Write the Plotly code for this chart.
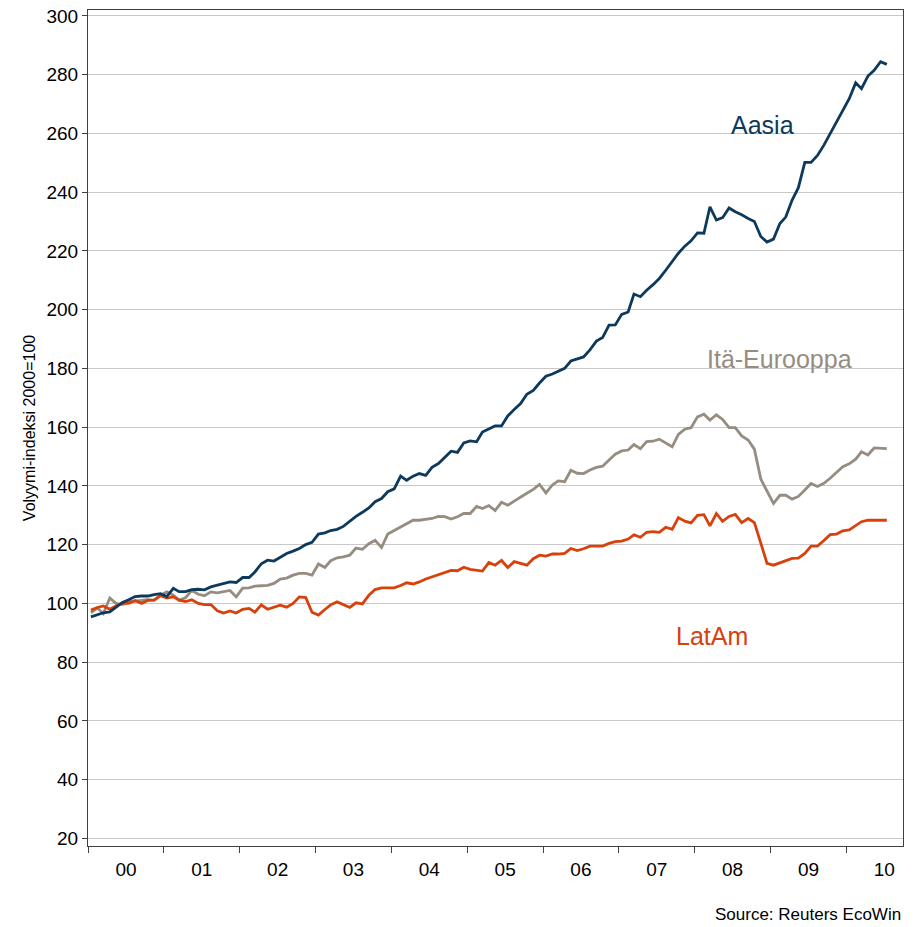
import pandas as pd
import plotly.graph_objects as go

# Monthly volume index, 2000=100 (Jan 2000 .. Jul 2010)
aasia = [
    95.4, 96.0, 96.8, 97.1, 98.8, 100.3, 101.2, 102.3, 102.5, 102.5, 103.0, 103.3,
    102.3, 105.1, 104.0, 104.0, 104.7, 104.8, 104.6, 105.6, 106.2, 106.8, 107.3, 107.1,
    108.8, 108.8, 110.7, 113.5, 114.7, 114.4, 115.8, 117.0, 117.8, 118.7, 120.0, 120.8,
    123.6, 124.0, 124.8, 125.2, 126.2, 128.0, 129.6, 131.0, 132.5, 134.6, 135.7, 138.0,
    139.0, 143.3, 141.9, 143.3, 144.2, 143.6, 146.3, 147.6, 149.9, 151.8, 151.4, 154.6,
    155.3, 155.0, 158.3, 159.3, 160.4, 160.4, 163.8, 166.0, 168.0, 171.2, 172.5, 175.0,
    177.3, 178.1, 178.9, 180.0, 182.5, 183.3, 183.9, 186.3, 189.3, 190.5, 194.7, 194.8,
    198.4, 199.2, 205.3, 204.4, 206.6, 208.5, 210.6, 213.4, 216.3, 219.2, 221.6, 223.4,
    226.1, 226.0, 235.0, 230.5, 231.3, 234.6, 233.3, 232.3, 231.0, 230.0, 224.9, 223.0,
    224.0, 229.3, 231.5, 237.3, 241.5, 250.1, 250.1, 252.5, 256.0, 259.8, 263.8, 267.9,
    271.8, 277.2, 275.2, 279.5, 281.5, 284.4, 283.5,
]
ita_eurooppa = [
    96.8, 98.5, 96.5, 101.8, 100.0, 99.6, 100.5, 100.8, 101.0, 101.3, 101.1, 102.8,
    103.9, 102.8, 101.1, 101.9, 104.4, 103.1, 102.6, 103.9, 103.6, 104.1, 104.4, 102.2,
    105.2, 105.3, 105.9, 106.0, 106.1, 106.8, 108.3, 108.6, 109.6, 110.2, 110.2, 109.6,
    113.4, 112.2, 114.5, 115.5, 115.8, 116.4, 118.8, 118.4, 120.3, 121.5, 119.0, 123.6,
    124.8, 125.9, 127.0, 128.3, 128.3, 128.6, 128.9, 129.6, 129.5, 128.7, 129.5, 130.6,
    130.6, 133.0, 132.3, 133.3, 131.6, 134.4, 133.4, 134.8, 136.3, 137.5, 138.8, 140.5,
    137.6, 140.3, 141.7, 141.4, 145.3, 144.3, 144.2, 145.4, 146.3, 146.7, 148.8, 150.8,
    151.9, 152.2, 154.1, 152.7, 155.1, 155.2, 155.9, 154.6, 153.3, 157.5, 159.3, 159.8,
    163.5, 164.4, 162.4, 164.2, 162.6, 159.8, 159.8, 157.0, 155.6, 152.5, 142.3, 138.2,
    134.0, 136.8, 136.8, 135.5, 136.4, 138.6, 140.8, 139.8, 140.9, 142.6, 144.5, 146.5,
    147.5, 149.1, 151.6, 150.5, 152.9, 152.7, 152.7,
]
latam = [
    97.7, 98.6, 99.1, 98.0, 99.1, 100.1, 100.0, 101.0, 100.0, 101.0, 101.1, 102.6,
    101.8, 102.2, 101.1, 100.6, 101.2, 100.0, 99.6, 99.6, 97.5, 96.7, 97.4, 96.7,
    98.0, 98.3, 97.0, 99.5, 98.0, 98.6, 99.4, 98.7, 100.0, 102.2, 102.0, 97.0,
    96.0, 97.9, 99.5, 100.5, 99.6, 98.6, 100.2, 99.8, 102.8, 104.7, 105.3, 105.3,
    105.3, 106.1, 107.0, 106.6, 107.3, 108.3, 109.0, 109.8, 110.5, 111.2, 111.1, 112.3,
    111.6, 111.2, 111.0, 113.9, 113.0, 114.6, 112.2, 114.2, 113.6, 113.0, 115.2, 116.4,
    116.1, 116.8, 116.8, 117.0, 118.7, 118.0, 118.6, 119.5, 119.5, 119.5, 120.4, 121.0,
    121.2, 121.9, 123.3, 122.5, 124.2, 124.4, 124.2, 125.9, 125.2, 129.2, 128.0, 127.4,
    130.0, 130.2, 126.4, 130.6, 127.9, 129.6, 130.3, 127.5, 128.9, 127.5, 120.5, 113.6,
    113.0, 113.8, 114.3, 115.3, 115.4, 117.0, 119.5, 119.5, 121.4, 123.4, 123.6, 124.7,
    125.0, 126.5, 127.8, 128.3, 128.3, 128.2, 128.3,
]
y_ticks = list(range(20, 301, 20))

dates = pd.date_range("2000-01-01", periods=len(aasia), freq="MS") + pd.Timedelta(days=14)

C_AASIA = "#0D3A5C"
C_ITA = "#968C80"
C_LAT = "#D8400C"
FONT = "Liberation Sans, Arial, sans-serif"

fig = go.Figure()
for vals, col, name in [(ita_eurooppa, C_ITA, "Itä-Eurooppa"),
                        (latam, C_LAT, "LatAm"),
                        (aasia, C_AASIA, "Aasia")]:
    fig.add_trace(go.Scatter(x=dates, y=vals, mode="lines", name=name,
                             line=dict(color=col, width=2.8)))

fig.update_layout(
    width=918, height=927,
    margin=dict(l=88, r=15, t=10, b=81, autoexpand=False),
    paper_bgcolor="white", plot_bgcolor="white",
    showlegend=False,
    font=dict(family=FONT, size=18, color="#000000"),
)
fig.update_xaxes(
    type="date", range=["2000-01-01", "2010-10-01"],
    tick0="2000-01-01", dtick="M12", tickformat="%y", ticklabelmode="period",
    ticks="outside", ticklen=6, tickcolor="#404040",
    showgrid=False, showline=True, linecolor="#404040", linewidth=1, mirror=True,
    tickfont=dict(size=19),
)
fig.update_yaxes(
    range=[17.4, 302], tickvals=y_ticks,
    ticks="outside", ticklen=5, tickcolor="#404040", ticklabeloverflow="allow",
    showgrid=True, gridcolor="#C8C8C8", gridwidth=1, zeroline=False,
    showline=True, linecolor="#404040", linewidth=1, mirror=True,
    tickfont=dict(size=19),
    title=dict(text="Volyymi-indeksi 2000=100", font=dict(size=16), standoff=6),
)

for txt, px, py, col in [("Aasia", 0.827, 0.862, C_AASIA),
                         ("Itä-Eurooppa", 0.849, 0.583, C_ITA),
                         ("LatAm", 0.766, 0.251, C_LAT)]:
    fig.add_annotation(xref="paper", yref="paper", x=px, y=py, text=txt,
                       xanchor="center", yanchor="middle",
                       showarrow=False, font=dict(size=25, color=col))
fig.add_annotation(xref="paper", yref="paper", x=1.0, y=-0.0825, xanchor="right", yanchor="middle",
                   text="Source: Reuters EcoWin", showarrow=False,
                   font=dict(size=17, color="#000000"))

# remove the default 8px page margin so the figure fills the window
fig.write_html("out.html", config={"displayModeBar": False},
               post_script="document.body.style.margin='0px';")
